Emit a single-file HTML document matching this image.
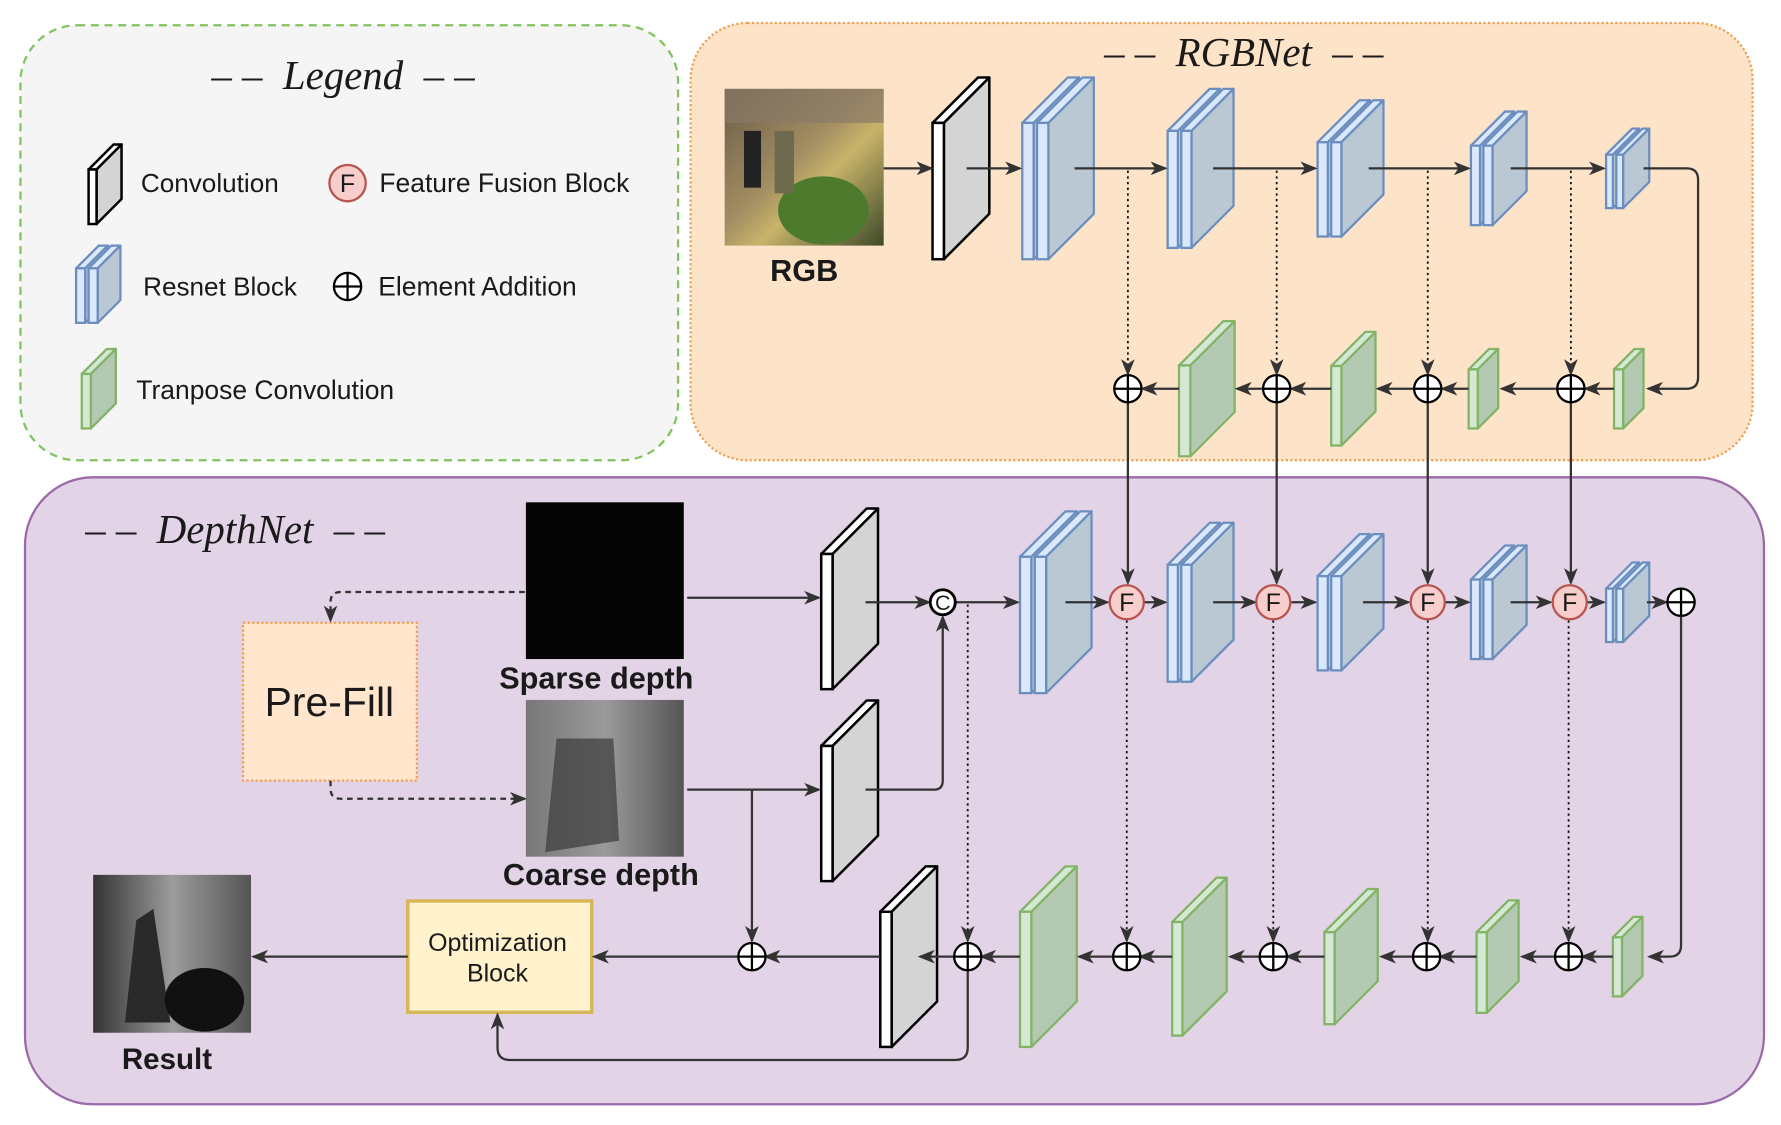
<!DOCTYPE html>
<html><head><meta charset="utf-8"><style>
html,body{margin:0;padding:0;background:#fff;}
svg{display:block}
text{font-family:"Liberation Sans",sans-serif;fill:#1a1a1a}
.ti{font-family:"Liberation Serif",serif;font-style:italic;font-size:36px;white-space:pre}
.b{font-weight:bold}
</style></head><body>
<svg id="s" width="1781" height="1125" viewBox="0 0 1568 990" xmlns="http://www.w3.org/2000/svg">
<defs>
<marker id="a" markerWidth="15" markerHeight="12" refX="13" refY="6" orient="auto" markerUnits="userSpaceOnUse"><path d="M0,0 L15,6 L0,12 L4,6 z" fill="#333"/></marker>
<linearGradient id="rgbg" x1="0" y1="0" x2="1" y2="1"><stop offset="0" stop-color="#6a5a48"/><stop offset="0.45" stop-color="#a38f62"/><stop offset="0.6" stop-color="#c9b36a"/><stop offset="1" stop-color="#3d4a28"/></linearGradient>
<linearGradient id="cg" x1="0" y1="0" x2="1" y2="0"><stop offset="0" stop-color="#777"/><stop offset="0.5" stop-color="#9a9a9a"/><stop offset="1" stop-color="#555"/></linearGradient>
<linearGradient id="rg" x1="0" y1="0" x2="1" y2="0"><stop offset="0" stop-color="#333"/><stop offset="0.5" stop-color="#9c9c9c"/><stop offset="1" stop-color="#555"/></linearGradient>
</defs>
<rect x="18" y="22" width="579" height="383" rx="50" fill="#f5f5f5" stroke="#82c35f" stroke-width="2" stroke-dasharray="7,5"/>
<rect x="608" y="20" width="935" height="385" rx="50" fill="#fde3c8" stroke="#f0a050" stroke-width="2" stroke-dasharray="2,2"/>
<rect x="22" y="420" width="1531" height="552" rx="60" fill="#e3d3e6" stroke="#9b6aa8" stroke-width="2"/>
<text class="ti" x="302" y="78" text-anchor="middle">– –  Legend  – –</text>
<text class="ti" x="1095" y="58" text-anchor="middle">– –  RGBNet  – –</text>
<text class="ti" x="75" y="478">– –  DepthNet  – –</text>
<g id="g"></g>
<rect x="638" y="78" width="140" height="138" fill="url(#rgbg)"/>
<rect x="638" y="78" width="140" height="30" fill="#8a7b66" opacity=".7"/>
<ellipse cx="725" cy="185" rx="40" ry="30" fill="#4e7a2e"/>
<rect x="655" y="115" width="15" height="50" fill="#222"/><rect x="682" y="115" width="17" height="55" fill="#6d6a4e"/>
<rect x="463" y="442" width="139" height="138" fill="#050505"/>
<rect x="463" y="616" width="139" height="138" fill="url(#cg)"/>
<path d="M490 650 L540 650 L545 740 L480 750 Z" fill="#3a3a3a" opacity=".7"/>
<rect x="82" y="770" width="139" height="139" fill="url(#rg)"/>
<path d="M110 900 L120 810 L135 800 L150 900 Z" fill="#2a2a2a"/>
<ellipse cx="180" cy="880" rx="35" ry="28" fill="#111"/>
<text x="708" y="247" text-anchor="middle" class="b" font-size="27">RGB</text>
<text x="525" y="606" text-anchor="middle" class="b" font-size="27">Sparse depth</text>
<text x="529" y="779" text-anchor="middle" class="b" font-size="27">Coarse depth</text>
<text x="147" y="941" text-anchor="middle" class="b" font-size="26">Result</text>
<rect x="214" y="548" width="153" height="139" fill="#ffe6cc" stroke="#f0a050" stroke-width="2" stroke-dasharray="2,2"/>
<text x="290" y="630" text-anchor="middle" font-size="36">Pre-Fill</text>
<rect x="359" y="793" width="162" height="98" fill="#fff2cc" stroke="#d6b656" stroke-width="3"/>
<text x="438" y="837" text-anchor="middle" font-size="22">Optimization</text>
<text x="438" y="864" text-anchor="middle" font-size="22">Block</text>
<text x="124" y="169" font-size="23">Convolution</text>
<text x="334" y="169" font-size="23.3">Feature Fusion Block</text>
<text x="126" y="260" font-size="23">Resnet Block</text>
<text x="333" y="260" font-size="23.3">Element Addition</text>
<text x="120" y="351" font-size="23.3">Tranpose Convolution</text>
<g id="t"></g>
</svg>
<script>
var g=document.getElementById('g'),t=document.getElementById('t'),NS='http://www.w3.org/2000/svg';
function el(p,n,a){var e=document.createElementNS(NS,n);for(var k in a)e.setAttribute(k,a[k]);p.appendChild(e);return e;}
function slab(x,y,w,h,d,f,s,st,sw){
 el(g,'path',{d:'M'+x+' '+y+'L'+(x+d)+' '+(y-d)+'L'+(x+w+d)+' '+(y-d)+'L'+(x+w)+' '+y+'Z',fill:f,stroke:st,'stroke-width':sw,'stroke-linejoin':'round'});
 el(g,'path',{d:'M'+(x+w)+' '+y+'L'+(x+w+d)+' '+(y-d)+'L'+(x+w+d)+' '+(y+h-d)+'L'+(x+w)+' '+(y+h)+'Z',fill:s,stroke:st,'stroke-width':sw,'stroke-linejoin':'round'});
 el(g,'rect',{x:x,y:y,width:w,height:h,fill:f,stroke:st,'stroke-width':sw});
}
function conv(x,yc,h,d,w){w=w||10;slab(x,yc-h/2+d/2,w,h,d,'#fff','#d4d4d4','#000',2.2);}
function res(x,yc,h,d,w){w=w||9;var y=yc-h/2+d/2;slab(x,y,w,h,d,'#dae8fc','#bac8d3','#6c8ebf',2);slab(x+w+3,y,w,h,d,'#dae8fc','#bac8d3','#6c8ebf',2);}
function tr(x,yc,h,d,w){w=w||9;slab(x,yc-h/2+d/2,w,h,d,'#d5e8d4','#b3c9b2','#82b366',2);}
conv(78,162,48,22,7);res(67,250,48,20,8);tr(72,342,48,22,8);
conv(821,148,120,40);
res(900,148,120,40,10);res(1028,148,103,37);res(1160,148,83,37);res(1295,148,70,30,8);res(1414,148,47,23,6);
tr(1038,342,80,39,10);tr(1172,342,70,30);tr(1293,342,52,18,8);tr(1421,342,52,18,8);
conv(723,527,119,40);conv(723,696,119,40);conv(775,842,119,40);
res(898,530,120,40,10);res(1028,530,103,37);res(1160,530,83,37);res(1295,530,70,30,8);res(1414,530,47,23,6);
tr(898,842,119,40,10);tr(1032,842,100,39);tr(1166,842,81,38);tr(1300,842,71,28);tr(1420,842,52,18,8);
function ln(d,dash,w){var a={d:d,fill:'none',stroke:dash=='dot'?'#111':'#333','stroke-width':w||2,'marker-end':'url(#a)'};if(dash=='dot')a['stroke-dasharray']='2,3';if(dash=='dash')a['stroke-dasharray']='5,4';el(t,'path',a);}
function H(x1,x2,y){ln('M'+x1+' '+y+'H'+x2);}
H(778,820,148);H(851,898,148);H(946,1026,148);H(1068,1158,148);H(1205,1293,148);H(1330,1412,148);
ln('M1447 148H1485Q1495 148 1495 158V332Q1495 342 1485 342H1451');
[993,1124,1257,1383].forEach(function(x){ln('M'+x+' 150V329','dot',1.6);ln('M'+x+' 354V513');});
H(1421,1396,342);H(1370,1322,342);H(1293,1270,342);H(1244,1213,342);H(1172,1137,342);H(1111,1089,342);H(1038,1006,342);
H(605,721,526);H(762,818,530);H(842,896,530);H(938,975,530);H(1007,1026,530);H(1068,1105,530);H(1137,1158,530);H(1200,1240,530);H(1272,1293,530);H(1330,1365,530);H(1397,1412,530);H(1450,1467,530);
ln('M1480 542V832Q1480 842 1470 842H1452');
H(605,721,695);ln('M662 695V828');ln('M762 695H822Q830 695 830 687V543');
ln('M852 532V828','dot',1.6);
[992,1121,1257,1381].forEach(function(x){ln('M'+x+' 546V828','dot',1.6);});
H(1420,1393,842);H(1368,1340,842);H(1300,1268,842);H(1244,1216,842);H(1166,1133,842);H(1108,1083,842);H(1032,1004,842);H(979,950,842);H(898,864,842);H(840,810,842);H(775,674,842);H(650,523,842);H(359,223,842);
ln('M852 854V922Q852 933 841 933H449Q438 933 438 922V893');
ln('M462 521H300Q291 521 291 530V546','dash');ln('M291 687V694Q291 703 300 703H462','dash');
function plus(x,y,r){el(t,'circle',{cx:x,cy:y,r:r,fill:'#fff',stroke:'#000','stroke-width':2});el(t,'path',{d:'M'+(x-r)+' '+y+'H'+(x+r)+'M'+x+' '+(y-r)+'V'+(y+r),stroke:'#000','stroke-width':2});}
function F(x,y,r,fs){el(t,'circle',{cx:x,cy:y,r:r,fill:'#f8cecc',stroke:'#b85450','stroke-width':2});var e=el(t,'text',{x:x,y:y+fs*0.36,'text-anchor':'middle','font-size':fs});e.textContent='F';}
[993,1124,1257,1383].forEach(function(x){plus(x,342,12);});
[662,852,992,1121,1256,1381].forEach(function(x){plus(x,842,12);});plus(1480,530,12);
[992,1121,1257,1382].forEach(function(x){F(x,530,15,22);});
F(306,161,16,22);plus(306,252,12);
el(t,'circle',{cx:830,cy:530,r:11,fill:'#fff',stroke:'#000','stroke-width':2.5});
var c=el(t,'text',{x:830,y:537,'text-anchor':'middle','font-size':19});c.textContent='C';
</script>
</body></html>
